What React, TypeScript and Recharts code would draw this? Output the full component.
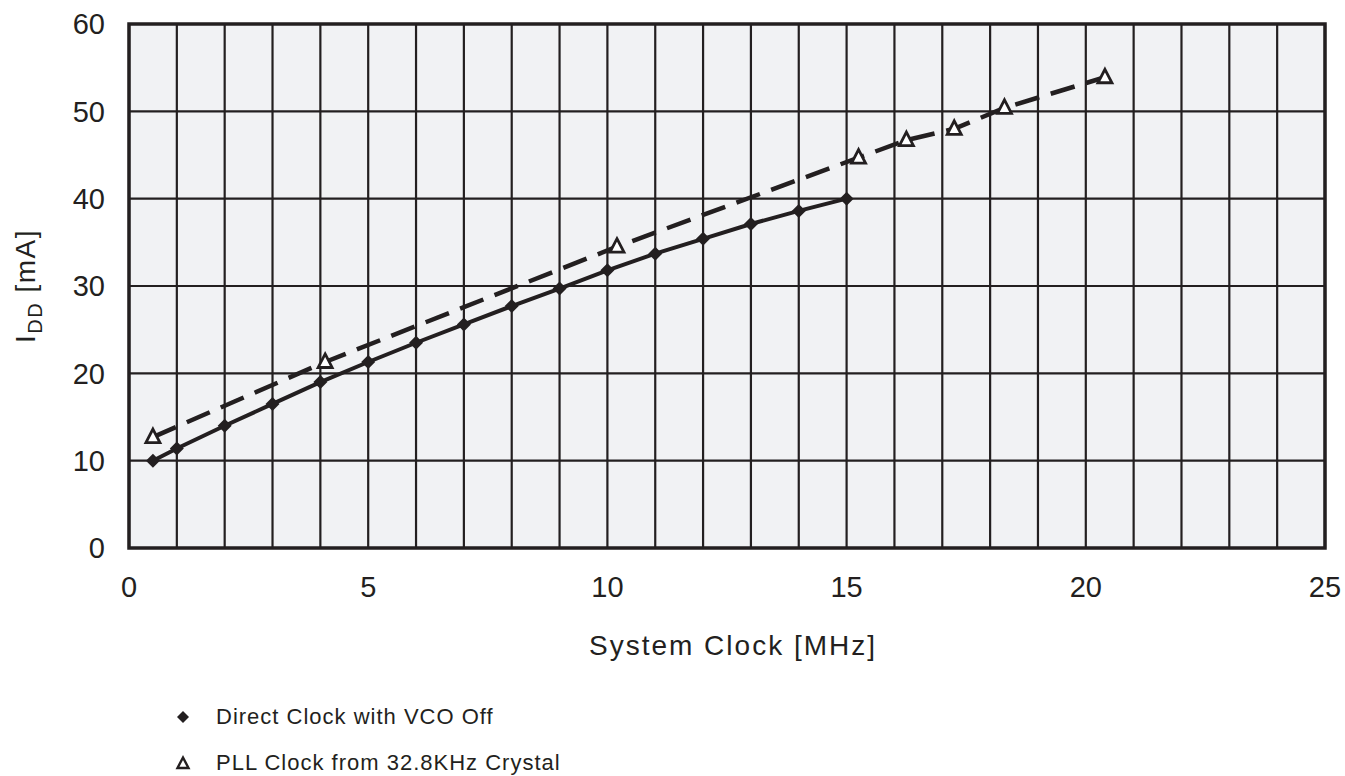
import React from 'react';
import {
  LineChart,
  Line,
  XAxis,
  YAxis,
  CartesianGrid,
  ReferenceArea,
  Legend,
  Label,
} from 'recharts';

const directClockMHz = [0.5, 1, 2, 3, 4, 5, 6, 7, 8, 9, 10, 11, 12, 13, 14, 15];
const directIdd = [10.0, 11.4, 14.0, 16.5, 19.0, 21.3, 23.5, 25.6, 27.7, 29.7, 31.8, 33.7, 35.4, 37.1, 38.6, 40.0];

const pllClockMHz = [0.5, 4.1, 10.2, 15.25, 16.25, 17.25, 18.3, 20.4];
const pllIdd = [12.7, 21.3, 34.5, 44.7, 46.7, 48.0, 50.4, 53.9];

const xGridTicks = [0, 1, 2, 3, 4, 5, 6, 7, 8, 9, 10, 11, 12, 13, 14, 15, 16, 17, 18, 19, 20, 21, 22, 23, 24, 25];
const yTicks = [0, 10, 20, 30, 40, 50, 60];

const seriesNames = ['Direct Clock with VCO Off', 'PLL Clock from 32.8KHz Crystal'];

const directData = directClockMHz.map((x, i) => ({ x, y: directIdd[i] }));
const pllData = pllClockMHz.map((x, i) => ({ x, y: pllIdd[i] }));

const INK = '#231f20';
const FONT = '"Liberation Sans", Arial, Helvetica, sans-serif';

const Diamond = (props: any) => {
  const { cx, cy } = props;
  if (cx == null || cy == null) return null;
  const r = 7;
  return <path d={`M${cx},${cy - r}L${cx + r},${cy}L${cx},${cy + r}L${cx - r},${cy}Z`} fill={INK} stroke="none" />;
};

const Triangle = (props: any) => {
  const { cx, cy } = props;
  if (cx == null || cy == null) return null;
  const w = 7;
  return (
    <path
      d={`M${cx},${cy - 8}L${cx + w},${cy + 5.5}L${cx - w},${cy + 5.5}Z`}
      fill="#ffffff"
      stroke={INK}
      strokeWidth={2.8}
      strokeLinejoin="miter"
    />
  );
};

const LegendContent = () => (
  <div style={{ fontFamily: FONT, fontSize: 22, color: INK, letterSpacing: 1 }}>
    <div style={{ display: 'flex', alignItems: 'center', height: 46 }}>
      <svg width={30} height={20} style={{ marginRight: 16 }}>
        <path d="M13,4L19,10L13,16L7,10Z" fill={INK} />
      </svg>
      <span>{seriesNames[0]}</span>
    </div>
    <div style={{ display: 'flex', alignItems: 'center', height: 46 }}>
      <svg width={30} height={20} style={{ marginRight: 16 }}>
        <path d="M13,4.5L18.5,15L7.5,15Z" fill="#fff" stroke={INK} strokeWidth={2.4} />
      </svg>
      <span>{seriesNames[1]}</span>
    </div>
  </div>
);

const YLabel = (props: any) => {
  const vb = props.viewBox || {};
  const cx = 35;
  const cy = vb.y + vb.height / 2 + 0;
  return (
    <text
      transform={`translate(${cx},${cy}) rotate(-90)`}
      textAnchor="middle"
      fontFamily={FONT}
      fontSize={28}
      fill={INK}
      letterSpacing={1.5}
    >
      <tspan>I</tspan>
      <tspan fontSize={20} dy={7}>DD</tspan>
      <tspan dy={-7}> [mA]</tspan>
    </text>
  );
};

const XLabel = (props: any) => {
  const vb = props.viewBox || {};
  return (
    <text
      x={vb.x + vb.width / 2 + 6}
      y={vb.y + 107}
      textAnchor="middle"
      fontFamily={FONT}
      fontSize={28}
      fill={INK}
      letterSpacing={2}
    >
      System Clock [MHz]
    </text>
  );
};

export default function App() {
  return (
    <div style={{ position: 'absolute', left: 0, top: 0, width: 1345, height: 776, background: '#fff' }}>
      <LineChart width={1345} height={776} margin={{ top: 24, right: 20, bottom: 108, left: 0 }}>
        <CartesianGrid stroke={INK} strokeWidth={2.2} fill="#f1f2f4" fillOpacity={1} />
        <XAxis
          type="number"
          dataKey="x"
          domain={[0, 25]}
          ticks={xGridTicks}
          interval={0}
          tickFormatter={(v: number) => (v % 5 === 0 ? String(v) : '')}
          axisLine={false}
          tickLine={false}
          tickSize={0}
          tickMargin={28}
          height={120}
          tick={{ fill: INK, fontSize: 29, fontFamily: FONT }}
        >
          <Label content={XLabel} />
        </XAxis>
        <YAxis
          type="number"
          domain={[0, 60]}
          ticks={yTicks}
          interval={0}
          axisLine={false}
          tickLine={false}
          tickSize={0}
          tickMargin={24}
          width={129}
          tick={{ fill: INK, fontSize: 29, fontFamily: FONT }}
        >
          <Label content={YLabel} />
        </YAxis>
        <ReferenceArea x1={0} x2={25} y1={0} y2={60} fill="none" stroke={INK} strokeWidth={3.5} ifOverflow="visible" />
        <Line
          data={directData}
          dataKey="y"
          type="linear"
          stroke={INK}
          strokeWidth={4}
          dot={<Diamond />}
          activeDot={false}
          isAnimationActive={false}
          name={seriesNames[0]}
        />
        <Line
          data={pllData}
          dataKey="y"
          type="linear"
          stroke={INK}
          strokeWidth={4.5}
          strokeDasharray="25 12"
          dot={<Triangle />}
          activeDot={false}
          isAnimationActive={false}
          name={seriesNames[1]}
        />
        <Legend
          layout="vertical"
          align="center"
          verticalAlign="middle"
          content={<LegendContent />}
          wrapperStyle={{ position: 'absolute', left: 170, top: 694, width: 460, height: 92 }}
        />
      </LineChart>
    </div>
  );
}
